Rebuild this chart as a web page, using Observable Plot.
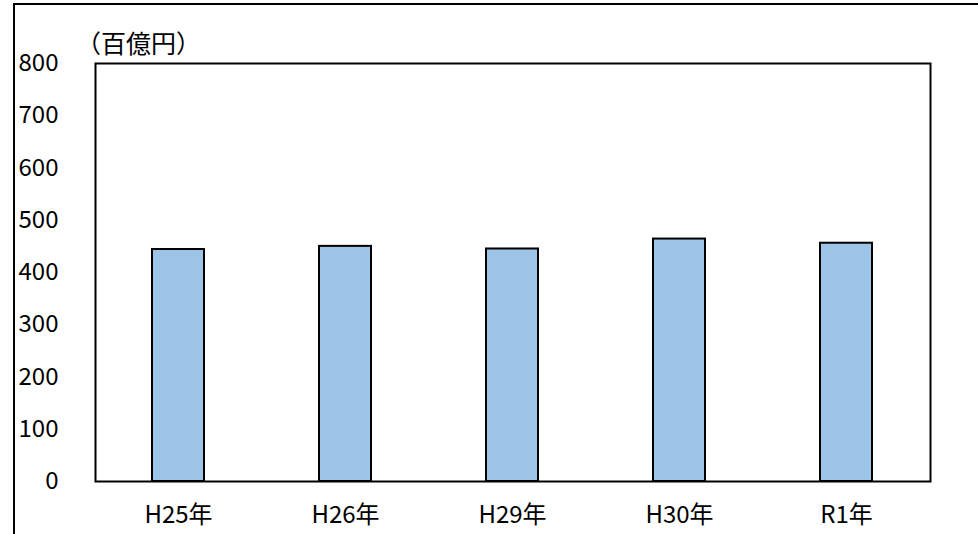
<!DOCTYPE html>
<html>
<head>
<meta charset="utf-8">
<script src="https://cdn.jsdelivr.net/npm/d3@7"></script>
<script src="https://cdn.jsdelivr.net/npm/@observablehq/plot@0.6"></script>
<style>
  html, body { margin: 0; padding: 0; background: #fff; }
  #wrap { position: relative; width: 978px; height: 534px; overflow: hidden; font-family: "Liberation Sans Narrow", "Noto Sans CJK JP", sans-serif; }
  #outer { position: absolute; left: 13px; top: 3px; width: 980px; height: 540px; border-top: 2px solid #000; border-left: 2px solid #000; box-sizing: border-box; }
  #unit { position: absolute; left: 76px; top: 30px; font-size: 25px; font-family: "Noto Sans CJK JP", sans-serif; color: #000; line-height: 1; }
  #chart { position: absolute; left: 0; top: 0; }
</style>
</head>
<body>
<div id="wrap">
  <div id="outer"></div>
  <div id="chart"></div>
  <div id="unit">（百億円）</div>
</div>
<script>
const years = ["H25年", "H26年", "H29年", "H30年", "R1年"];
const values = [444, 450, 445, 464, 456];
const yTicks = [0, 100, 200, 300, 400, 500, 600, 700, 800];
const unitLabel = "（百億円）";

const data = years.map((y, i) => ({year: y, value: values[i]}));

const chart = Plot.plot({
  width: 978,
  height: 534,
  marginLeft: 95,
  marginRight: 48,
  marginTop: 63,
  marginBottom: 53,
  style: {fontFamily: '"Liberation Sans Narrow", "Noto Sans CJK JP", sans-serif', background: "transparent", color: "#000"},
  x: {domain: years, paddingInner: 0.686, paddingOuter: 0.343, label: null},
  y: {domain: [0, 800], label: null},
  marks: [
    Plot.barY(data, {x: "year", y: "value", fill: "#9DC3E6", stroke: "#000", strokeWidth: 2}),
    Plot.frame({stroke: "#000", strokeWidth: 2}),
    Plot.axisY({ticks: yTicks, tickSize: 0, tickPadding: 37, fontSize: 24, fill: "#000", label: null}),
    Plot.axisX({tickSize: 0, tickPadding: 24, fontSize: 24, fill: "#000", label: null})
  ]
});
document.getElementById("chart").appendChild(chart);
document.getElementById("unit").textContent = unitLabel;
</script>
</body>
</html>
